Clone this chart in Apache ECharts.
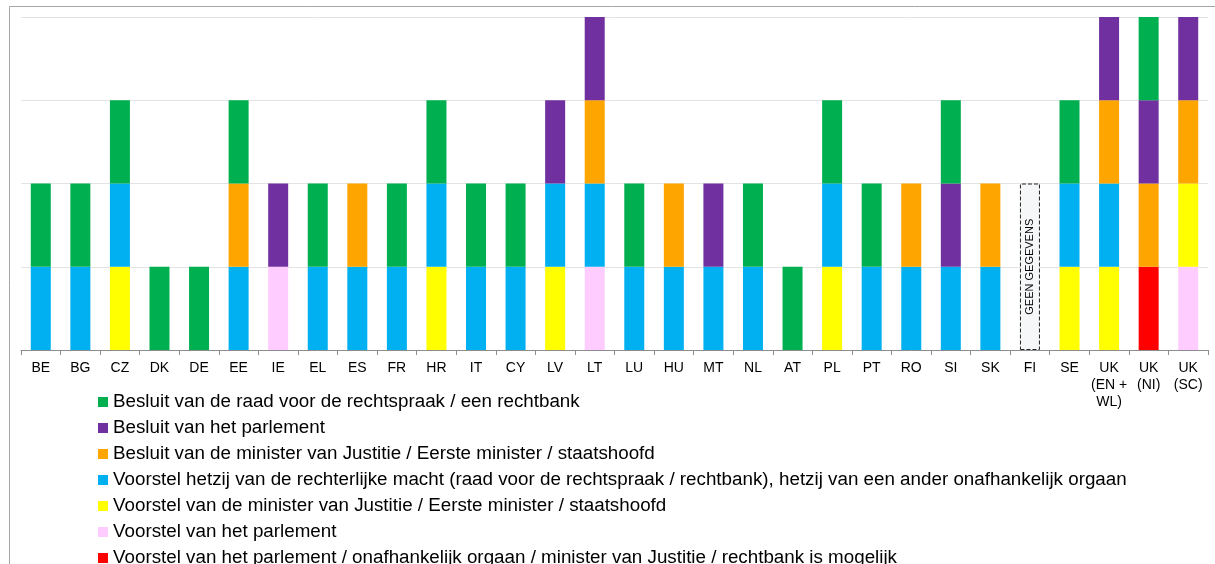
<!DOCTYPE html>
<html>
<head>
<meta charset="utf-8">
<script src="https://cdn.jsdelivr.net/npm/echarts@6/dist/echarts.min.js"></script>
<style>
  html, body { margin: 0; padding: 0; background: #fff; }
  #chart { width: 1215px; height: 564px; }
</style>
</head>
<body>
<div id="chart"></div>
<script>
// landen / categorieen
const landen = ['BE', 'BG', 'CZ', 'DK', 'DE', 'EE', 'IE', 'EL', 'ES', 'FR', 'HR', 'IT', 'CY', 'LV', 'LT',
  'LU', 'HU', 'MT', 'NL', 'AT', 'PL', 'PT', 'RO', 'SI', 'SK', 'FI', 'SE', 'UK\n(EN +\nWL)', 'UK\n(NI)', 'UK\n(SC)'];

// 1 = van toepassing, 0 = niet (volgorde van onder naar boven in de stapel)
const voorstelRood   = [0,0,0,0,0,0,0,0,0,0,0,0,0,0,0,0,0,0,0,0,0,0,0,0,0,0,0,0,1,0];
const voorstelParl   = [0,0,0,0,0,0,1,0,0,0,0,0,0,0,1,0,0,0,0,0,0,0,0,0,0,0,0,0,0,1];
const voorstelMin    = [0,0,1,0,0,0,0,0,0,0,1,0,0,1,0,0,0,0,0,0,1,0,0,0,0,0,1,1,0,1];
const voorstelRecht  = [1,1,1,0,0,1,0,1,1,1,1,1,1,1,1,1,1,1,1,0,1,1,1,1,1,0,1,1,0,0];
const besluitMin     = [0,0,0,0,0,1,0,0,1,0,0,0,0,0,1,0,1,0,0,0,0,0,1,0,1,0,0,1,1,1];
const besluitParl    = [0,0,0,0,0,0,1,0,0,0,0,0,0,1,1,0,0,1,0,0,0,0,0,1,0,0,0,1,1,1];
const besluitRaad    = [1,1,1,1,1,1,0,1,0,1,1,1,1,0,0,1,0,0,1,1,1,1,0,1,0,0,1,0,1,0];
const geenGegevens   = [0,0,0,0,0,0,0,0,0,0,0,0,0,0,0,0,0,0,0,0,0,0,0,0,0,2,0,0,0,0];

const namen = {
  raad: 'Besluit van de raad voor de rechtspraak / een rechtbank',
  parl: 'Besluit van het parlement',
  min: 'Besluit van de minister van Justitie / Eerste minister / staatshoofd',
  recht: 'Voorstel hetzij van de rechterlijke macht (raad voor de rechtspraak / rechtbank), hetzij van een ander onafhankelijk orgaan',
  vmin: 'Voorstel van de minister van Justitie / Eerste minister / staatshoofd',
  vparl: 'Voorstel van het parlement',
  rood: 'Voorstel van het parlement / onafhankelijk orgaan / minister van Justitie / rechtbank is mogelijk'
};

function toData(arr) {
  return arr.map(v => v === 0 ? '-' : v);
}

function serie(naam, arr, kleur) {
  return {
    name: naam,
    type: 'bar',
    stack: 'totaal',
    barWidth: 20,
    itemStyle: { color: kleur },
    data: toData(arr)
  };
}

const chart = echarts.init(document.getElementById('chart'));

const option = {
  animation: false,
  textStyle: { fontFamily: 'Liberation Sans, Arial, sans-serif' },
  graphic: [{
    type: 'rect',
    shape: { x: 9.5, y: 6.5, width: 1220, height: 600 },
    style: { fill: 'none', stroke: '#a6a6a6', lineWidth: 1 },
    silent: true
  }],
  grid: { left: 21, right: 7, top: 17, bottom: 214 },
  legend: {
    orient: 'vertical',
    left: 98,
    top: 392,
    height: 300,
    padding: 0,
    icon: 'rect',
    itemWidth: 10,
    itemHeight: 10,
    itemGap: 6,
    textStyle: { fontSize: 18.8, color: '#000', lineHeight: 20 },
    data: [namen.raad, namen.parl, namen.min, namen.recht, namen.vmin, namen.vparl, namen.rood]
  },
  xAxis: {
    type: 'category',
    data: landen,
    axisLine: { lineStyle: { color: '#8c8c8c' } },
    axisTick: { show: true, length: 5, lineStyle: { color: '#8c8c8c' } },
    axisLabel: { color: '#000', fontSize: 14, lineHeight: 17, interval: 0, margin: 10 }
  },
  yAxis: {
    type: 'value',
    min: 0,
    max: 4,
    interval: 1,
    axisLabel: { show: false },
    axisLine: { show: false },
    axisTick: { show: false },
    splitLine: { lineStyle: { color: '#e3e3e3' } }
  },
  series: [
    serie(namen.rood, voorstelRood, '#ff0000'),
    serie(namen.vparl, voorstelParl, '#ffccff'),
    serie(namen.vmin, voorstelMin, '#ffff00'),
    serie(namen.recht, voorstelRecht, '#00b0f0'),
    serie(namen.min, besluitMin, '#ffa500'),
    serie(namen.parl, besluitParl, '#7030a0'),
    serie(namen.raad, besluitRaad, '#00b050'),
    {
      name: 'GEEN GEGEVENS',
      type: 'bar',
      stack: 'totaal',
      itemStyle: {
        color: '#f6f7f9',
        borderColor: '#222',
        borderWidth: 1,
        borderType: 'dashed'
      },
      label: {
        show: true,
        position: 'inside',
        rotate: 90,
        formatter: 'GEEN GEGEVENS',
        fontSize: 11,
        color: '#000'
      },
      data: toData(geenGegevens)
    }
  ]
};

chart.setOption(option);
</script>
</body>
</html>
